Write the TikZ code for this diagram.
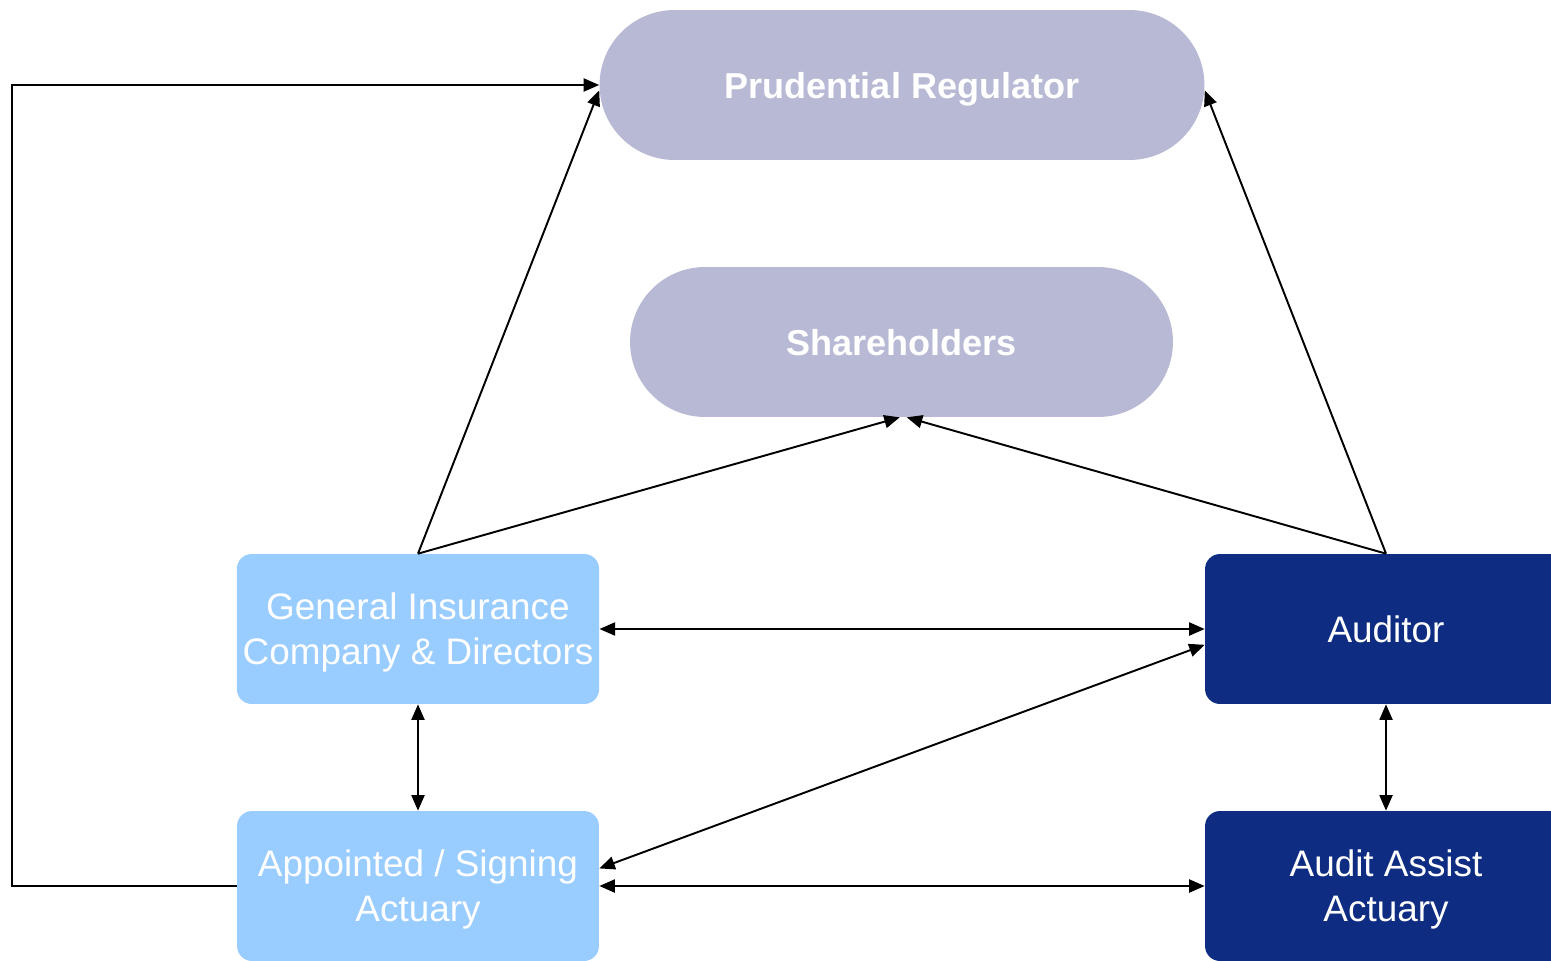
\documentclass[tikz,border=0pt]{standalone}
\usepackage{fontspec}
\setmainfont{Liberation Sans}
\usetikzlibrary{arrows.meta}
\definecolor{regbody}{HTML}{B8B9D4}
\definecolor{companyblue}{HTML}{99CCFF}
\definecolor{auditnavy}{HTML}{0E2C82}
\tikzset{
  pill/.style={fill=regbody, rounded corners=1.5cm, minimum height=3cm, text depth=0pt,
    text=white, font=\fontsize{20.5}{24}\selectfont\bfseries},
  party/.style={rounded corners=0.3cm, minimum width=7.24cm, minimum height=3cm, text depth=0pt,
    text=white, align=center, font=\fontsize{21}{25.5}\selectfont},
  link/.style={line width=1.1pt, -{Triangle[length=0.31cm,width=0.26cm]}},
  dlink/.style={line width=1.1pt, {Triangle[length=0.31cm,width=0.26cm]}-{Triangle[length=0.31cm,width=0.26cm]}}
}
\begin{document}
\begin{tikzpicture}[x=0.02cm,y=-0.02cm]
  \useasboundingbox (0,0) rectangle (1551,960);
  % Draw top ovals
  \node (regulator) [pill, minimum width=12.1cm] at (902,85) {Prudential Regulator};
  \node (shareholders) [pill, minimum width=10.86cm] at (901.5,342) {Shareholders};

  % Draw company side
  \node (company) [party, fill=companyblue] at (418,629) {General Insurance\\Company \& Directors};
  \node (actuary) [party, fill=companyblue] at (418,886) {Appointed / Signing\\Actuary};

  % Draw audit side
  \node (auditor) [party, fill=auditnavy] at (1386,629) {Auditor};
  \node (assist) [party, fill=auditnavy] at (1386,886) {Audit Assist\\Actuary};

  % Draw reporting lines
  \coordinate (leftbend) at (12,85);
  \draw[link] (actuary.west) -| (leftbend) -- (regulator.west);
  \draw[link] (company.north) -- (regulator.181);
  \draw[link] (auditor.north) -- (regulator.-1);
  \draw[link] (company.north) -- ([xshift=-1pt]shareholders.south);
  \draw[link] (auditor.north) -- ([xshift=3pt]shareholders.south);

  % Draw two-way lines
  \draw[dlink] (company.east) -- (auditor.west);
  \draw[dlink] (company.south) -- (actuary.north);
  \draw[dlink] (auditor.south) -- (assist.north);
  \draw[dlink] ([yshift=10pt]actuary.east) -- ([yshift=-9pt]auditor.west);
  \draw[dlink] (actuary.east) -- (assist.west);
\end{tikzpicture}
\end{document}
